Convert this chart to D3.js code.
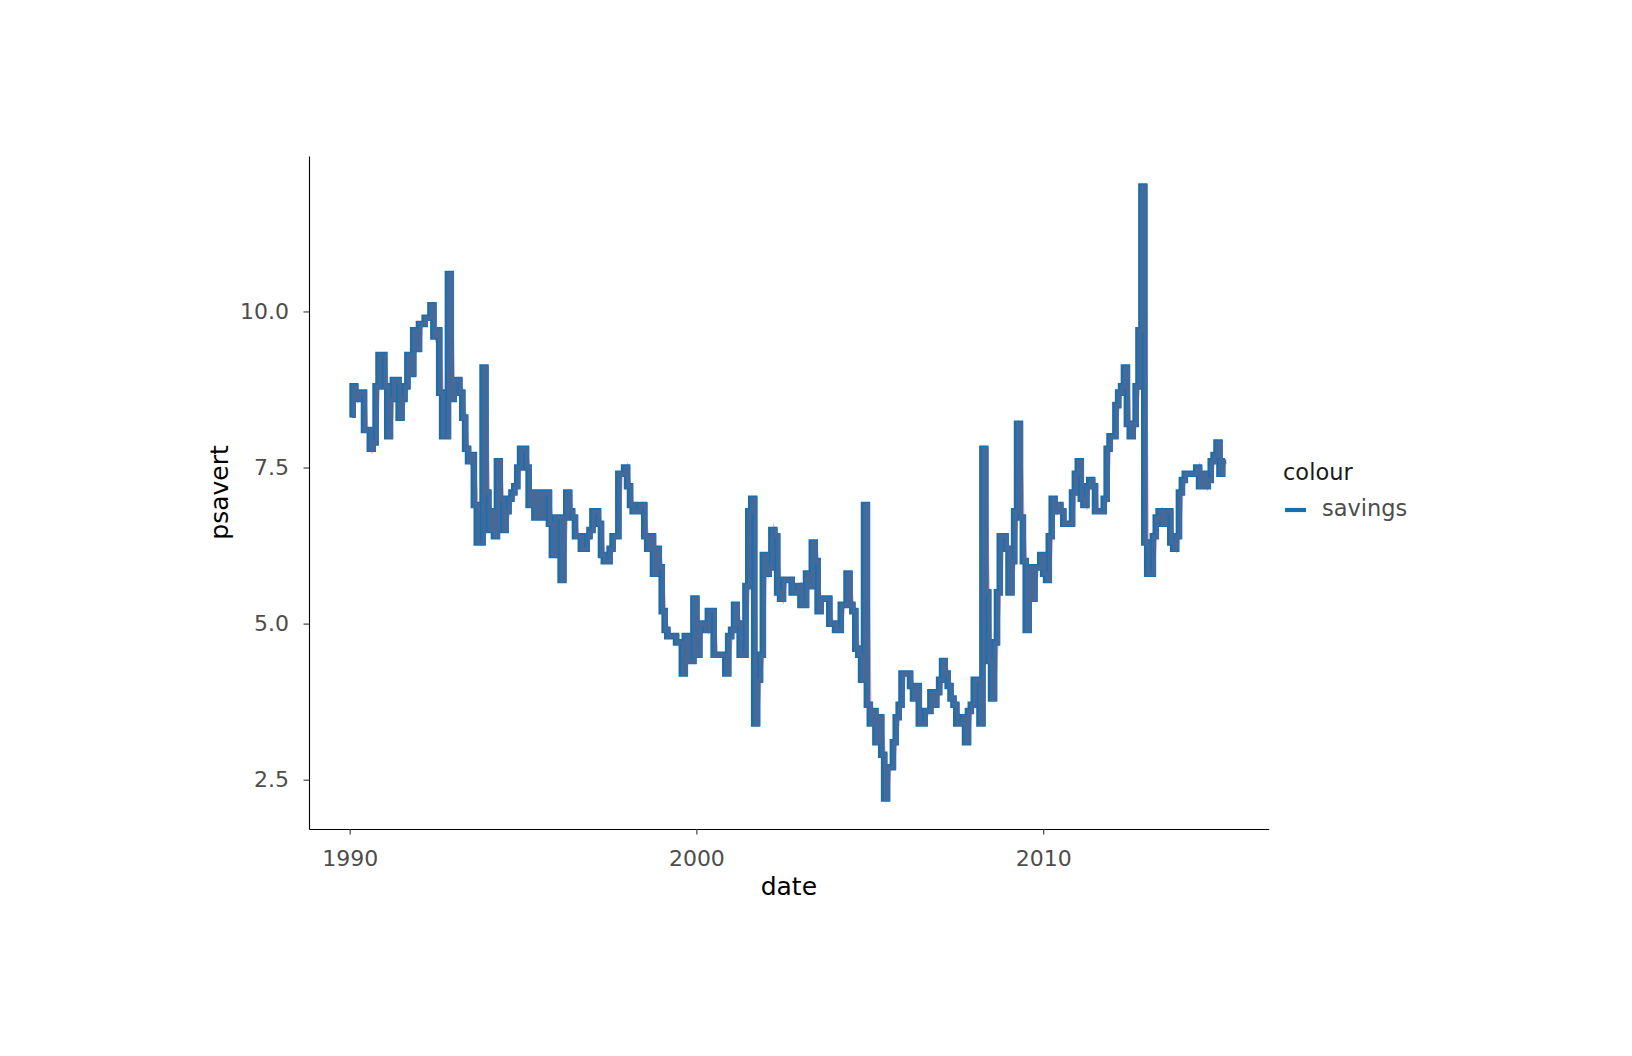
<!DOCTYPE html>
<html>
<head>
<meta charset="utf-8">
<script src="https://cdn.jsdelivr.net/npm/d3@7/dist/d3.min.js"></script>
<style>
  body { margin: 0; background: #fff; }
  svg text { font-family: "DejaVu Sans", sans-serif; }
</style>
</head>
<body>
<svg id="chart" width="1632" height="1056"></svg>
<script>
// first month of the series, one value per month after it
var startMonth = "1990-02-01";
// personal savings rate (Feb 1990 .. Apr 2015)
var psavert = [
  8.3, 8.8, 8.6, 8.7, 8.7, 8.1, 8.1, 7.8, 7.9, 8.8, 9.3,            // 1990
  9.3, 8.8, 8.0, 8.6, 8.9, 8.9, 8.3, 8.6, 8.8, 9.3, 9.0, 9.7,       // 1991
  9.4, 9.8, 9.8, 9.9, 9.9, 10.1, 9.6, 9.7, 8.7, 8.0, 8.0, 10.6,     // 1992
  8.6, 8.9, 8.9, 8.7, 8.3, 7.8, 7.6, 7.7, 6.9, 6.3, 6.3, 9.1,       // 1993
  7.1, 6.5, 6.8, 6.4, 7.6, 7.0, 6.5, 6.8, 7.0, 7.1, 7.2, 7.5,       // 1994
  7.8, 7.8, 7.5, 6.9, 7.1, 6.7, 7.1, 6.7, 7.1, 7.1, 6.6, 6.1,       // 1995
  6.7, 6.7, 5.7, 6.7, 7.1, 6.8, 6.7, 6.4, 6.4, 6.2, 6.2, 6.4,       // 1996
  6.5, 6.8, 6.8, 6.6, 6.1, 6.0, 6.0, 6.2, 6.4, 6.4, 7.4, 7.4,       // 1997
  7.5, 7.2, 6.9, 6.8, 6.8, 6.9, 6.9, 6.4, 6.2, 6.4, 5.8, 6.2,       // 1998
  5.9, 5.2, 4.9, 4.8, 4.8, 4.8, 4.7, 4.7, 4.2, 4.8, 4.4, 4.4,       // 1999
  5.4, 4.5, 5.0, 5.0, 4.9, 5.2, 5.2, 4.5, 4.5, 4.5, 4.5, 4.2,       // 2000
  4.8, 4.9, 5.3, 5.0, 4.5, 4.5, 5.6, 6.8, 7.0, 3.4, 4.1, 4.5,       // 2001
  6.1, 5.8, 5.9, 6.5, 6.4, 5.5, 5.4, 5.7, 5.7, 5.7, 5.5, 5.5,       // 2002
  5.6, 5.3, 5.3, 5.8, 5.6, 6.3, 6.0, 5.2, 5.4, 5.4, 5.4, 5.0,       // 2003
  5.0, 4.9, 4.9, 5.3, 5.3, 5.8, 5.3, 5.2, 4.6, 4.5, 4.1, 6.9,       // 2004
  3.7, 3.4, 3.6, 3.1, 3.5, 2.9, 2.2, 2.7, 2.7, 3.1, 3.5, 3.7,       // 2005
  4.2, 4.2, 4.2, 4.0, 3.8, 4.0, 3.4, 3.4, 3.6, 3.6, 3.9, 3.7,       // 2006
  3.9, 4.1, 4.4, 4.2, 4.0, 3.8, 3.7, 3.4, 3.4, 3.5, 3.1, 3.6,       // 2007
  3.7, 4.1, 4.1, 3.4, 7.8, 5.5, 4.4, 3.8, 4.7, 5.5, 6.4, 6.4,       // 2008
  6.2, 5.5, 6.0, 6.8, 8.2, 6.7, 6.0, 4.9, 5.9, 5.4, 5.9, 5.9,       // 2009
  6.1, 5.8, 5.7, 6.4, 7.0, 6.8, 6.9, 6.8, 6.6, 6.6, 6.6, 7.1,       // 2010
  7.4, 7.6, 7.0, 6.9, 7.2, 7.3, 7.2, 6.8, 6.8, 6.8, 7.0, 7.8,       // 2011
  8.0, 8.0, 8.5, 8.7, 8.8, 9.1, 8.2, 8.0, 8.2, 8.8, 9.7, 12.0,      // 2012
  6.3, 5.8, 5.8, 6.4, 6.7, 6.8, 6.6, 6.8, 6.8, 6.3, 6.2, 6.4,       // 2013
  7.1, 7.3, 7.4, 7.4, 7.4, 7.4, 7.5, 7.2, 7.4, 7.2, 7.3, 7.6,       // 2014
  7.7, 7.9, 7.4, 7.6                                                // 2015
];
var xTickYears = [1990, 2000, 2010];
var yTicks = [2.5, 5.0, 7.5, 10.0];
var seriesName = "savings";
var legendTitle = "colour";

var svg = d3.select("#chart");
var panel = { left: 309, right: 1268.7, top: 156, bottom: 829 };

var start = d3.utcParse("%Y-%m-%d")(startMonth);
var data = psavert.map(function (v, i) {
  return { date: d3.utcMonth.offset(start, i), value: v };
});

// ggplot style 5% expansion on both scales
var tExt = d3.extent(data, d => d.date);
var tPad = (tExt[1] - tExt[0]) * 0.05;
var x = d3.scaleUtc()
  .domain([new Date(+tExt[0] - tPad), new Date(+tExt[1] + tPad)])
  .range([panel.left, panel.right]);

var vExt = d3.extent(data, d => d.value);
var vPad = (vExt[1] - vExt[0]) * 0.05;
var y = d3.scaleLinear()
  .domain([vExt[0] - vPad, vExt[1] + vPad])
  .range([panel.bottom, panel.top]);

// thin pink line joining the points, sits under the steps
svg.append("path")
  .datum(data)
  .attr("fill", "none")
  .attr("stroke", "#f3b3b3")
  .attr("stroke-width", 3.5)
  .attr("d", d3.line().x(d => x(d.date)).y(d => y(d.value)));

var step = d3.line().curve(d3.curveStepBefore)
  .x(d => x(d.date)).y(d => y(d.value));

svg.append("path")
  .datum(data)
  .attr("fill", "none")
  .attr("stroke", "#1470b2")
  .attr("stroke-width", 6.6)
  .attr("stroke-linejoin", "miter")
  .attr("d", step);

svg.append("path")
  .datum(data)
  .attr("fill", "none")
  .attr("stroke", "#456a99")
  .attr("stroke-width", 4.2)
  .attr("stroke-linejoin", "miter")
  .attr("transform", "translate(1.1,0.3)")
  .attr("d", step);

// axes
var xAxis = svg.append("g")
  .attr("transform", "translate(0," + panel.bottom + ")")
  .call(d3.axisBottom(x)
    .tickValues(xTickYears.map(yr => new Date(Date.UTC(yr, 0, 1))))
    .tickFormat(d3.utcFormat("%Y"))
    .tickSizeInner(5.5).tickSizeOuter(0).tickPadding(16));

var yAxis = svg.append("g")
  .attr("transform", "translate(" + panel.left + ",0)")
  .call(d3.axisLeft(y)
    .tickValues(yTicks)
    .tickFormat(d3.format(".1f"))
    .tickSizeInner(5.5).tickSizeOuter(0).tickPadding(14.5));

[xAxis, yAxis].forEach(function (g) {
  g.select(".domain").attr("stroke", "#000").attr("stroke-width", 1.1);
  g.selectAll(".tick line").attr("stroke", "#333").attr("stroke-width", 1.1);
  g.selectAll(".tick text")
    .attr("fill", "#4d4d4d")
    .style("font-size", "22px")
    .style("font-family", '"DejaVu Sans", sans-serif');
});

svg.append("text")
  .attr("x", (panel.left + panel.right) / 2)
  .attr("y", 895)
  .attr("text-anchor", "middle")
  .attr("fill", "#000")
  .style("font-size", "25px")
  .text("date");

svg.append("text")
  .attr("transform", "translate(228," + (panel.top + panel.bottom) / 2 + ") rotate(-90)")
  .attr("text-anchor", "middle")
  .attr("fill", "#000")
  .style("font-size", "25px")
  .text("psavert");

// legend
var legend = svg.append("g");
legend.append("text")
  .attr("x", 1283).attr("y", 480)
  .attr("fill", "#1a1a1a")
  .style("font-size", "22.5px")
  .text(legendTitle);
legend.append("line")
  .attr("x1", 1285).attr("x2", 1306)
  .attr("y1", 510).attr("y2", 510)
  .attr("stroke", "#1470b2")
  .attr("stroke-width", 4.2);
legend.append("text")
  .attr("x", 1322).attr("y", 516)
  .attr("fill", "#4d4d4d")
  .style("font-size", "22.5px")
  .text(seriesName);
</script>
</body>
</html>
